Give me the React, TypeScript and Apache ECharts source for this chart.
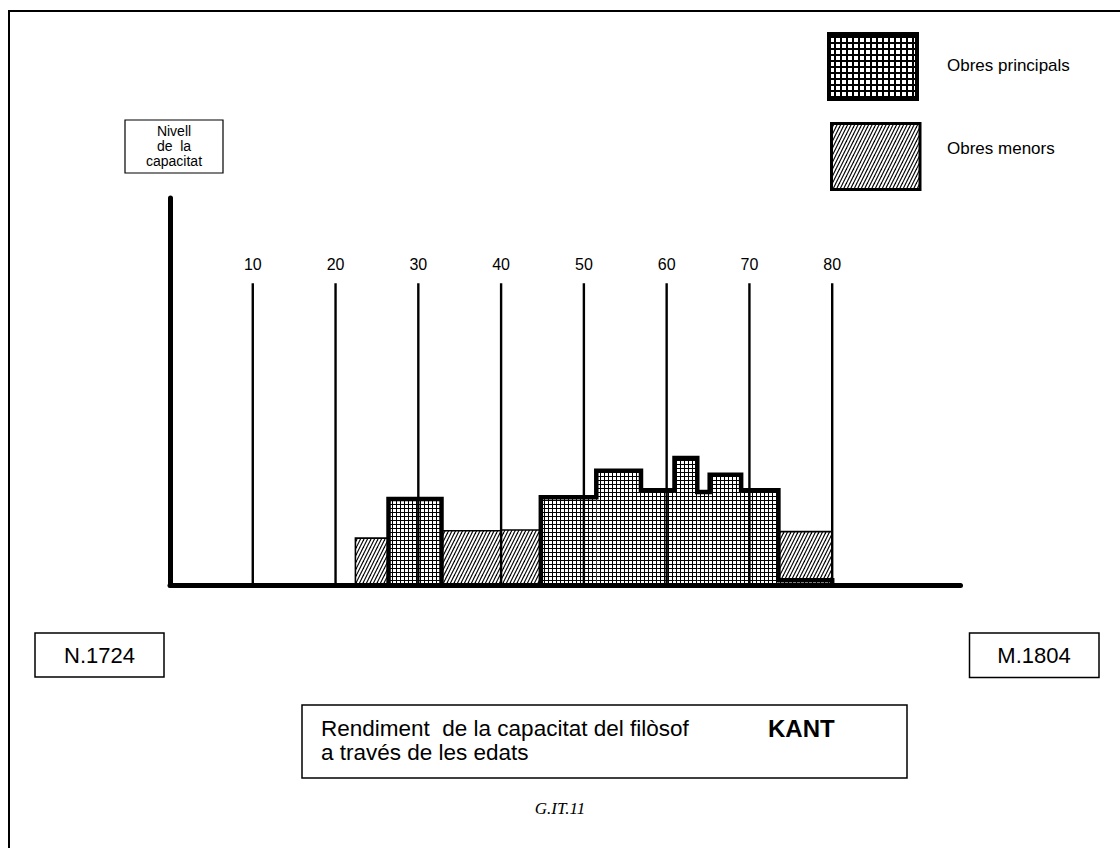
import React, { useEffect, useRef } from "react";
import * as echarts from "echarts";

// Age ticks (years of life) drawn as vertical reference lines
const ageTicks = [10, 20, 30, 40, 50, 60, 70, 80];
const ageLineTop = 78;
const xMax = 95.5;
const yMax = 100;

// Obres menors: [start age, end age, level]
const minorStart = [22.4, 32.8, 40.0, 73.5];
const minorEnd = [26.4, 40.0, 44.8, 80.0];
const minorLevel = [12.1, 14.0, 14.2, 13.8];

// Obres principals: contiguous runs of segments
const mainRun = [0, 1, 1, 1, 1, 1, 1, 1, 1];
const mainStart = [26.4, 44.8, 51.5, 56.9, 60.95, 63.7, 65.2, 69.0, 73.5];
const mainEnd = [32.8, 51.5, 56.9, 60.95, 63.7, 65.2, 69.0, 73.5, 80.0];
const mainLevel = [22.2, 22.7, 29.5, 24.5, 32.8, 24.0, 28.5, 24.5, 1.2];
const mainRuns = [0, 1];

const SANS = '"Liberation Sans", Arial, Helvetica, sans-serif';
const SERIF = '"Liberation Serif", "Times New Roman", serif';

function makeGridPattern(pitch: number, white: number): any {
  const c = document.createElement("canvas");
  c.width = pitch;
  c.height = pitch;
  const g = c.getContext("2d")!;
  g.fillStyle = "#000";
  g.fillRect(0, 0, pitch, pitch);
  g.fillStyle = "#fff";
  g.fillRect(pitch - white, pitch - white, white, white);
  return { image: c, repetition: "repeat" };
}

function makeHatchPattern(): any {
  const c = document.createElement("canvas");
  c.width = 7;
  c.height = 14;
  const g = c.getContext("2d")!;
  g.fillStyle = "#fff";
  g.fillRect(0, 0, 7, 14);
  g.strokeStyle = "#000";
  g.lineWidth = 1.2;
  for (let k = -3; k <= 3; k++) {
    const cx = k * 3.5;
    g.beginPath();
    g.moveTo(cx, 14);
    g.lineTo(cx + 7, 0);
    g.stroke();
  }
  return { image: c, repetition: "repeat" };
}

export default function App() {
  const ref = useRef<HTMLDivElement>(null);

  useEffect(() => {
    document.body.style.margin = "0";
    if (!ref.current) return;
    const chart = echarts.init(ref.current, undefined, { renderer: "svg" });
    const grid = makeGridPattern(4, 3);
    const legendGrid = makeGridPattern(6, 4);
    const hatch = makeHatchPattern();

    const txt = (text: string, x: number, y: number, size: number, opts: any = {}) => ({
      type: "text",
      x,
      y,
      silent: true,
      z: 20,
      style: {
        text,
        fill: "#000",
        font: `${opts.style || "normal"} ${opts.weight || "normal"} ${size}px ${opts.family || SANS}`,
        textAlign: opts.align || "left",
        align: opts.align || "left",
        textVerticalAlign: "middle",
        verticalAlign: "middle",
      },
    });
    const box = (x: number, y: number, w: number, h: number, lw: number, fill: any = "none") => ({
      type: "rect",
      silent: true,
      z: 19,
      shape: { x, y, width: w, height: h },
      style: { fill, stroke: "#000", lineWidth: lw },
    });

    chart.setOption({
      animation: false,
      backgroundColor: "#fff",
      grid: { left: 170, right: 159.5, top: 198, bottom: 263, containLabel: false },
      xAxis: {
        type: "value",
        min: 0,
        max: xMax,
        z: 10,
        axisLine: { show: true, lineStyle: { color: "#000", width: 5 } },
        axisTick: { show: false },
        axisLabel: { show: false },
        splitLine: { show: false },
      },
      yAxis: {
        type: "value",
        min: 0,
        max: yMax,
        z: 10,
        axisLine: { show: true, lineStyle: { color: "#000", width: 5 } },
        axisTick: { show: false },
        axisLabel: { show: false },
        splitLine: { show: false },
      },
      series: [
        {
          name: "Obres menors",
          type: "custom",
          z: 2,
          silent: true,
          data: minorStart.map((s, i) => [s, minorEnd[i], minorLevel[i]]),
          encode: { x: [0, 1], y: 2 },
          renderItem: (params: any, api: any) => {
            const p0 = api.coord([api.value(0), 0]);
            const p1 = api.coord([api.value(1), api.value(2)]);
            return {
              type: "rect",
              shape: { x: p0[0], y: p1[1], width: p1[0] - p0[0], height: p0[1] - p1[1] },
              style: { fill: hatch, stroke: "#000", lineWidth: 1.6 },
            };
          },
        },
        {
          name: "Obres principals",
          type: "custom",
          z: 3,
          silent: true,
          data: mainStart.map((s, i) => [s, mainEnd[i], mainLevel[i]]),
          encode: { x: [0, 1], y: 2 },
          renderItem: (params: any, api: any) => {
            const p0 = api.coord([api.value(0), 0]);
            const p1 = api.coord([api.value(1), api.value(2)]);
            return {
              type: "rect",
              shape: { x: p0[0], y: p1[1], width: p1[0] - p0[0], height: p0[1] - p1[1] },
              style: { fill: grid, stroke: null, lineWidth: 0 },
            };
          },
        },
        {
          name: "ages",
          type: "custom",
          z: 4,
          silent: true,
          data: ageTicks.map((a) => [a, ageLineTop]),
          encode: { x: 0, y: 1 },
          renderItem: (params: any, api: any) => {
            const b = api.coord([api.value(0), 0]);
            const t = api.coord([api.value(0), api.value(1)]);
            return {
              type: "group",
              children: [
                {
                  type: "line",
                  shape: { x1: b[0], y1: b[1], x2: t[0], y2: t[1] },
                  style: { stroke: "#000", lineWidth: 2.4 },
                },
                {
                  type: "text",
                  x: t[0],
                  y: t[1] - 19,
                  style: {
                    text: String(api.value(0)),
                    fill: "#000",
                    font: `16px ${SANS}`,
                    align: "center",
                    textAlign: "center",
                    verticalAlign: "middle",
                    textVerticalAlign: "middle",
                  },
                },
              ],
            };
          },
        },
        {
          name: "outline",
          type: "custom",
          z: 5,
          silent: true,
          data: mainRuns.map((r) => [r]),
          encode: { x: 0 },
          renderItem: (params: any, api: any) => {
            const run = api.value(0);
            const idx = mainRun.map((r, i) => (r === run ? i : -1)).filter((i) => i >= 0);
            const pts: number[][] = [];
            pts.push(api.coord([mainStart[idx[0]], 0]));
            idx.forEach((i) => {
              pts.push(api.coord([mainStart[i], mainLevel[i]]));
              pts.push(api.coord([mainEnd[i], mainLevel[i]]));
            });
            pts.push(api.coord([mainEnd[idx[idx.length - 1]], 0]));
            return {
              type: "polyline",
              shape: { points: pts },
              style: { fill: "none", stroke: "#000", lineWidth: 4.5, lineJoin: "miter" },
            };
          },
        },
      ],
      graphic: [
        // page frame
        box(9, 11, 1200, 900, 2),
        // y-axis caption
        box(125, 120, 98, 53, 1.2),
        txt("Nivell", 174, 131, 14, { align: "center" }),
        txt("de  la", 174, 146, 14, { align: "center" }),
        txt("capacitat", 174, 161, 14, { align: "center" }),
        // legend
        box(829, 34, 88, 65, 4, legendGrid),
        box(831.5, 123.5, 88.5, 66, 3, hatch),
        txt("Obres principals", 947, 65, 17),
        txt("Obres menors", 947, 148, 17),
        // birth / death
        box(35, 633, 129, 44, 1.5),
        txt("N.1724", 99.5, 655.5, 22, { align: "center" }),
        box(969.5, 633, 129.5, 44.5, 1.5),
        txt("M.1804", 1034, 655.5, 22, { align: "center" }),
        // title
        box(302, 705, 605, 73, 1.5),
        txt("Rendiment  de la capacitat del filòsof", 321, 728, 22.5),
        txt("a través de les edats", 321, 752, 22.5),
        txt("KANT", 768, 728, 24, { weight: "bold" }),
        // footer
        txt("G.IT.11", 560, 808, 17, { align: "center", family: SERIF, style: "italic" }),
      ],
    });
    return () => chart.dispose();
  }, []);

  return <div ref={ref} style={{ width: 1120, height: 848 }} />;
}
